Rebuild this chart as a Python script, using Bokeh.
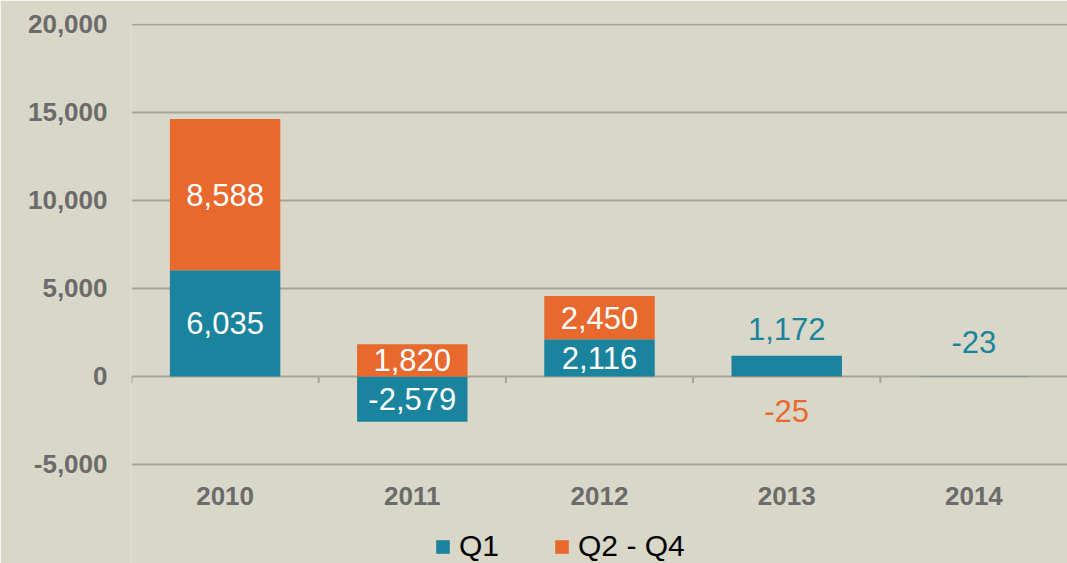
from bokeh.plotting import figure
from bokeh.models import Range1d, FixedTicker, Legend, LegendItem, NumeralTickFormatter
from bokeh.core.properties import value
from bokeh.embed import file_html
from bokeh.resources import INLINE

years = ["2010", "2011", "2012", "2013", "2014"]
q1 = [6035, -2579, 2116, 1172, -23]
q2_q4 = [8588, 1820, 2450, -25, None]
y_ticks = [-5000, 0, 5000, 10000, 15000, 20000]

BG = "#D9D7C8"
TEAL = "#1A839E"
ORANGE = "#E8692D"
GRID = "#A6A595"
TICK_TXT = "#6B6B6B"
FONT = "Liberation Sans"

xs = list(range(len(years)))

# frame reaches the bottom of the page so that the legend below the category labels is not clipped
p = figure(frame_width=936, frame_height=540, output_backend="svg", toolbar_location=None,
           x_range=Range1d(-0.5, len(years) - 0.5), y_range=Range1d(-10632, 20050),
           background_fill_color=BG, border_fill_color=BG,
           min_border_left=131, min_border_right=0, min_border_top=23, min_border_bottom=0)
p.outline_line_color = None

q2x, q2b, q2t = [], [], []
for i, (a, b) in enumerate(zip(q1, q2_q4)):
    if b is None:
        continue
    base = a if (a > 0) == (b > 0) else 0
    q2x.append(i); q2b.append(base); q2t.append(base + b)

r1 = p.vbar(x=xs, bottom=[0] * len(xs), top=q1, width=0.59, fill_color=TEAL, line_color=None)
r2 = p.vbar(x=q2x, bottom=q2b, top=q2t, width=0.59, fill_color=ORANGE, line_color=None)

bx = [i - 0.5 for i in xs]
p.segment(x0=bx, y0=[0] * len(bx), x1=bx, y1=[-380] * len(bx), line_color=GRID, line_width=2)

inside_x, inside_y, inside_t = [], [], []
out = []
for i, a in enumerate(q1):
    if abs(a) >= 1500:
        inside_x.append(i); inside_y.append(a / 2); inside_t.append(f"{a:,}")
    else:
        out.append((i, a, TEAL))
for i, b, t in zip(q2x, q2b, q2t):
    v = t - b
    if abs(v) >= 1500:
        inside_x.append(i); inside_y.append((b + t) / 2); inside_t.append(f"{v:,}")
    else:
        out.append((i, v, ORANGE))

p.text(x=inside_x, y=inside_y, text=inside_t, text_color="white", text_font=value(FONT),
       text_font_size="31px", text_align="center", text_baseline="middle")

for i, v, c in out:
    if c == TEAL and v > 0:
        y, off = v, -27
    elif c == TEAL:
        y, off = 0, -34
    else:
        y, off = v, 34
    p.text(x=[i], y=[y], text=[f"{v:,}"], text_color=c, text_font=value(FONT),
           text_font_size="31px", text_align="center", text_baseline="middle", y_offset=off)

# category labels under the lowest gridline
p.text(x=xs, y=[y_ticks[0]] * len(xs), text=years, text_color=TICK_TXT, text_font=value(FONT),
       text_font_style="bold", text_font_size="26px", text_align="center", text_baseline="middle",
       y_offset=32)

p.yaxis.ticker = FixedTicker(ticks=y_ticks)
p.yaxis.formatter = NumeralTickFormatter(format="0,0")
p.yaxis.axis_line_color = None
p.yaxis.major_tick_line_color = None
p.yaxis.minor_tick_line_color = None
p.yaxis.major_tick_out = 0
p.yaxis.major_label_text_font = FONT
p.yaxis.major_label_text_font_style = "bold"
p.yaxis.major_label_text_font_size = "26px"
p.yaxis.major_label_text_color = TICK_TXT
p.yaxis.major_label_standoff = 24

p.xaxis.visible = False

p.xgrid.grid_line_color = None
p.ygrid.grid_line_color = GRID
p.ygrid.grid_line_width = 2

legend = Legend(items=[LegendItem(label="Q1", renderers=[r1]), LegendItem(label="Q2 - Q4", renderers=[r2])],
                orientation="horizontal", location=(303, 0),
                label_text_font=FONT, label_text_font_size="30px", label_text_color="black",
                glyph_width=17, glyph_height=17, spacing=54, label_standoff=8,
                background_fill_alpha=0, border_line_color=None, padding=0, margin=0)
p.add_layout(legend, "center")

open("out.html", "w").write(file_html(p, INLINE))
